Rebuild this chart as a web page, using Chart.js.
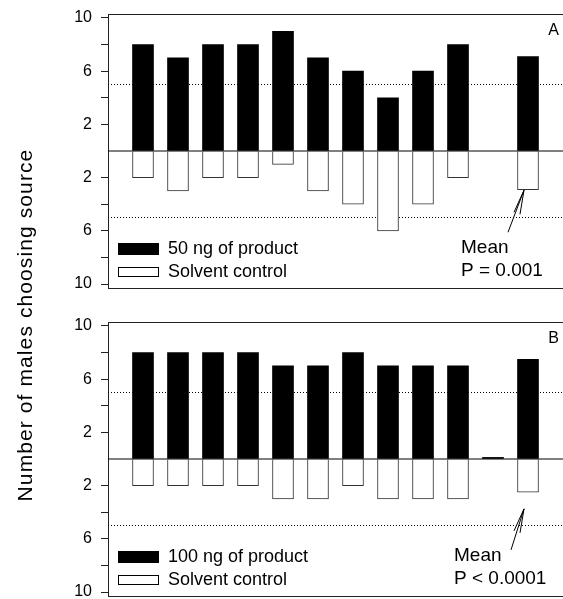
<!DOCTYPE html>
<html>
<head>
<meta charset="utf-8">
<script src="https://cdn.jsdelivr.net/npm/chart.js@4.4.1/dist/chart.umd.min.js"></script>
<style>
  html, body { margin: 0; padding: 0; background: #fff; }
  #page { position: relative; width: 563px; height: 599px; overflow: hidden; font-family: "Liberation Sans", Arial, sans-serif; }
  .panel { position: absolute; left: 0; width: 563px; }
  #panelA { top: 0; height: 300px; }
  #panelB { top: 300px; height: 299px; }
  #ytitle { position: absolute; left: -175px; top: 312px; width: 400px; text-align: center; font-size: 21px; letter-spacing: 1.1px; line-height: 26px; color: #000; transform: rotate(-90deg); }
</style>
</head>
<body>
<div id="page">
  <div class="panel" id="panelA"><canvas id="chartA"></canvas></div>
  <div class="panel" id="panelB"><canvas id="chartB"></canvas></div>
  <div id="ytitle">Number of males choosing source</div>
</div>
<script>
  // bar positions along the x axis (11 = empty slot, 12 = mean)
  const positions = [1, 2, 3, 4, 5, 6, 7, 8, 9, 10, 11, 12];

  const productA = [8, 7, 8, 8, 9, 7, 6, 4, 6, 8, null, 7.1];
  const controlA = [2, 3, 2, 2, 1, 3, 4, 6, 4, 2, null, 2.9];

  const productB = [8, 8, 8, 8, 7, 7, 8, 7, 7, 7, 0.12, 7.5];
  const controlB = [2, 2, 2, 2, 3, 3, 2, 3, 3, 3, null, 2.5];

  const yTicks = [-10, -8, -6, -4, -2, 0, 2, 4, 6, 8, 10];
  const labelledTicks = [10, 6, 2];
  const thresholdLevel = 5;

  const FONT = "'Liberation Sans', Arial, sans-serif";

  function points(values, sign) {
    return positions
      .map((p, i) => ({ x: p, y: values[i] === null ? null : sign * values[i] }))
      .filter((d) => d.y !== null);
  }

  function hLine(level, stack, dashed, order) {
    return {
      type: "line",
      data: [{ x: 0, y: level }, { x: 13, y: level }],
      borderColor: "#000",
      borderWidth: 1,
      borderDash: dashed ? [1, 2] : [],
      pointRadius: 0,
      stack: stack,
      order: order
    };
  }

  // frame, panel letter, legend, mean note and arrow
  function decorPlugin(cfg) {
    return {
      id: "decor" + cfg.letter,
      afterDatasetsDraw(chart) {
        const { ctx, chartArea: a, scales: { x, y } } = chart;
        ctx.save();
        ctx.strokeStyle = "#222";
        ctx.lineWidth = 1;
        ctx.beginPath();
        ctx.moveTo(a.left, Math.round(a.top) + 0.5);
        ctx.lineTo(a.right, Math.round(a.top) + 0.5);
        ctx.moveTo(a.left, Math.round(a.bottom) + 0.5);
        ctx.lineTo(a.right, Math.round(a.bottom) + 0.5);
        ctx.stroke();

        ctx.fillStyle = "#000";
        ctx.font = "16px " + FONT;
        ctx.textAlign = "right";
        ctx.textBaseline = "alphabetic";
        ctx.fillText(cfg.letter, a.right - 4, a.top + 21);

        // legend
        const rows = [a.bottom - 39, a.bottom - 16];
        ctx.fillStyle = "#000";
        ctx.fillRect(a.left + 10, rows[0] - 6, 41, 12);
        ctx.fillStyle = "#fff";
        ctx.fillRect(a.left + 10, rows[1] - 5, 41, 10);
        ctx.strokeStyle = "#000";
        ctx.strokeRect(a.left + 10.5, rows[1] - 4.5, 40, 9);
        ctx.fillStyle = "#000";
        ctx.font = "18px " + FONT;
        ctx.textAlign = "left";
        ctx.textBaseline = "middle";
        ctx.fillText(cfg.seriesLabel, a.left + 60, rows[0]);
        ctx.fillText("Solvent control", a.left + 60, rows[1]);

        // mean note
        const mx = x.getPixelForValue(12);
        ctx.font = "19px " + FONT;
        ctx.textBaseline = "alphabetic";
        ctx.fillText("Mean", mx + cfg.textDx, a.bottom - 35);
        ctx.fillText(cfg.pText, mx + cfg.textDx, a.bottom - 12);

        // arrow
        const tx = mx - 4;
        const ty = y.getPixelForValue(cfg.arrowTip);
        ctx.strokeStyle = "#000";
        ctx.beginPath();
        ctx.moveTo(tx + cfg.tail[0], ty + cfg.tail[1]);
        ctx.lineTo(tx, ty);
        ctx.lineTo(tx - 10, ty + 22);
        ctx.moveTo(tx, ty);
        ctx.lineTo(tx - 4, ty + 24);
        ctx.stroke();
        ctx.restore();
      }
    };
  }

  function makeChart(canvasId, product, control, cfg) {
    return new Chart(document.getElementById(canvasId), {
      type: "bar",
      data: {
        datasets: [
          hLine(thresholdLevel, "up", true, 5),
          hLine(-thresholdLevel, "down", true, 5),
          {
            label: cfg.seriesLabel,
            data: points(product, 1),
            backgroundColor: "#000",
            borderWidth: 0,
            barThickness: 21,
            stack: "bars",
            order: 2
          },
          {
            label: "Solvent control",
            data: points(control, -1),
            backgroundColor: "#fff",
            borderColor: "#333",
            borderWidth: 1,
            barThickness: 21,
            stack: "bars",
            order: 2
          },
          hLine(0, "zero", false, 0)
        ]
      },
      options: {
        responsive: true,
        maintainAspectRatio: false,
        animation: false,
        layout: { padding: { left: 0, right: 0, top: cfg.padTop, bottom: cfg.padBottom } },
        plugins: { legend: { display: false }, tooltip: { enabled: false } },
        scales: {
          x: { type: "linear", min: 0, max: 13, offset: false, display: false, stacked: true },
          y: {
            min: -10.3,
            max: 10.3,
            stacked: true,
            afterBuildTicks: (scale) => { scale.ticks = yTicks.map((v) => ({ value: v })); },
            afterFit: (scale) => {
              scale.width = 108;
              scale.paddingTop = 0;
              scale.paddingBottom = 0;
            },
            border: { display: true, color: "#222", width: 1 },
            grid: {
              drawOnChartArea: false,
              drawTicks: true,
              tickLength: 7,
              color: (c) => (c.tick && c.tick.value === 0 ? "rgba(0,0,0,0)" : "#222")
            },
            ticks: {
              padding: 9,
              color: "#000",
              font: { family: FONT, size: 16 },
              callback: (v) => (labelledTicks.includes(Math.abs(v)) ? String(Math.abs(v)) : "")
            }
          }
        }
      },
      plugins: [decorPlugin(cfg)]
    });
  }

  makeChart("chartA", productA, controlA, {
    letter: "A",
    seriesLabel: "50 ng of product",
    pText: "P = 0.001",
    textDx: -67,
    arrowTip: -2.95,
    tail: [-16, 42],
    padTop: 14,
    padBottom: 12
  });

  makeChart("chartB", productB, controlB, {
    letter: "B",
    seriesLabel: "100 ng of product",
    pText: "P < 0.0001",
    textDx: -74,
    arrowTip: -3.75,
    tail: [-13, 41],
    padTop: 22,
    padBottom: 3
  });
</script>
</body>
</html>
